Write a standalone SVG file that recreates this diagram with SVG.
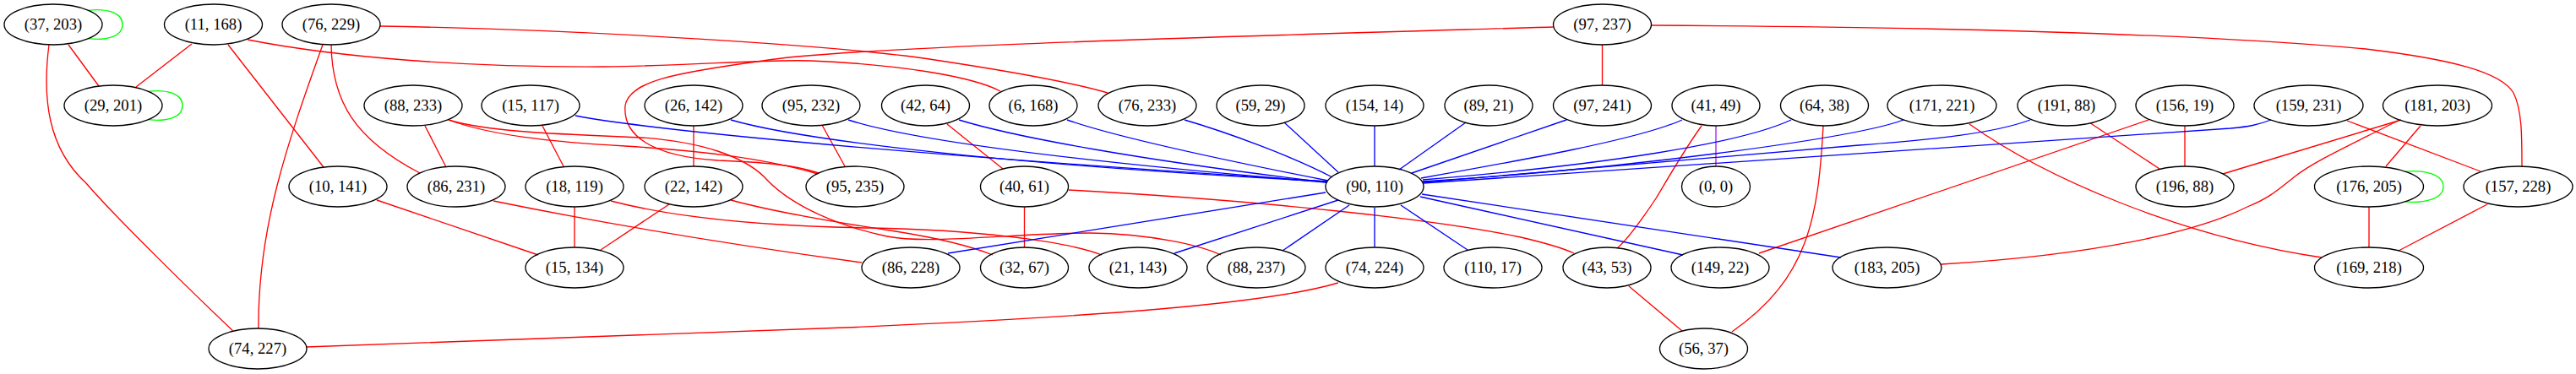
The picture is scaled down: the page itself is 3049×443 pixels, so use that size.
<svg xmlns="http://www.w3.org/2000/svg" width="3049" height="443" viewBox="0 0 3049 443">
<style>
.n ellipse{fill:none;stroke:#000;stroke-width:1.33}
.n text{font-family:"Liberation Serif","Times New Roman",serif;font-size:18.67px;text-anchor:middle;fill:#000}
#edges path{fill:none;stroke-width:1.33}
.r{stroke:#ff0000}
.b{stroke:#0000ff}
.g{stroke:#00ff00}
.p{stroke:#a020f0}
</style>
<rect width="3049" height="443" fill="#fff"/>
<g id="edges">
<path class="g" d="M104.6,12.3 C125,10 145,14 145,29 C145,44 125,48 104.6,45.7"/>
<path class="g" d="M175.6,108.3 C196,106 216,110 216,125 C216,140 196,144 175.6,141.7"/>
<path class="g" d="M2847,203.1 C2868,201 2892,206 2892,221 C2892,236 2868,241 2847,238.9"/>
<path class="r" d="M81,53 L117,102"/>
<path class="r" d="M58,53 C50,115 56,175 102,217 C138,259 235.5,353.7 275.5,391.7"/>
<path class="r" d="M227,52 L161,103"/>
<path class="r" d="M270,53 L383,198"/>
<path class="r" d="M293,47 C400,68 550,80 714,79 C820,78 900,70 960,72 C1060,76 1150,90 1184,108"/>
<path class="r" d="M450,31 C700,35 1000,55 1100,70 C1200,85 1270,98 1311,110"/>
<path class="r" d="M392,53 C393,120 420,165 497,205"/>
<path class="r" d="M382,53 C340,170 305,270 306,389"/>
<path class="r" d="M503,149 L528,198"/>
<path class="r" d="M531,142 C580,160 650,168 740,173 C820,178 900,186 968,206"/>
<path class="r" d="M531,142 C580,158 700,160 760,163 C830,168 880,185 905,210 C930,238 980,265 1050,280 C1100,290 1200,276 1290,276 C1360,277 1420,290 1445,302"/>
<path class="r" d="M1838,32 C1500,42 1000,55 903,72 C800,86 745,96 740,125 C737,160 770,185 850,190 C900,192 940,195 969,205"/>
<path class="r" d="M642,149 L667,197"/>
<path class="r" d="M680,245 L680,293"/>
<path class="r" d="M723,238 C800,258 900,268 1030,270 C1150,272 1260,285 1304,302"/>
<path class="r" d="M865,237 C920,252 1000,265 1060,274 C1110,282 1150,292 1175,302"/>
<path class="r" d="M792,242 L711,296"/>
<path class="r" d="M821,149 L821,197"/>
<path class="r" d="M446,237 L637,302"/>
<path class="r" d="M584,238 Q780,278 1020,311"/>
<path class="r" d="M973.5,149 L1000,197"/>
<path class="r" d="M1121,147 L1187,200"/>
<path class="r" d="M1212.5,245 L1212.5,293"/>
<path class="r" d="M1265,225 C1500,238 1700,260 1800,281 C1830,288 1850,294 1863,300"/>
<path class="r" d="M1584,335 C1500,360 1300,375 1000,388 C700,400 500,405 362,411"/>
<path class="r" d="M1896.5,53 L1896.5,101"/>
<path class="r" d="M1954,30 C2300,32 2600,40 2800,58 C2900,70 2960,85 2975,110 C2985,130 2985,160 2985,197"/>
<path class="r" d="M2014,149 C1992,180 1975,210 1960,235 C1940,265 1925,285 1914,294"/>
<path class="r" d="M1928,339 L1991,392"/>
<path class="r" d="M2158,149 C2152,260 2140,330 2050,393"/>
<path class="r" d="M2331,147 C2420,210 2580,280 2748,305"/>
<path class="r" d="M2474.5,146 L2556,200"/>
<path class="r" d="M2586,149 L2586,197"/>
<path class="r" d="M2543,142 L2082,300"/>
<path class="r" d="M2842,142 L2631,206"/>
<path class="r" d="M2840,142 C2790,168 2740,190 2715,210 C2695,226 2685,235 2660,245 C2600,275 2480,302 2298,313"/>
<path class="r" d="M2865,149 L2824,197"/>
<path class="r" d="M2778,143 L2936,203"/>
<path class="r" d="M2804,245 L2804,293"/>
<path class="r" d="M2944,242 L2839,297"/>
<path class="p" d="M2031,149 L2031,197"/>
<path class="b" d="M681,137 C760,152 1000,178 1570,215"/>
<path class="b" d="M865,142 C920,158 1100,190 1570,215"/>
<path class="b" d="M1004,142 C1060,160 1200,185 1570,216"/>
<path class="b" d="M1135,142 C1200,162 1350,190 1571,216"/>
<path class="b" d="M1263,142 C1320,162 1450,190 1572,214"/>
<path class="b" d="M1402,142 C1450,156 1530,185 1577,210"/>
<path class="b" d="M1520,145 L1584,204"/>
<path class="b" d="M1627,149 L1627,197"/>
<path class="b" d="M1735,145 L1656,201"/>
<path class="b" d="M1854,142 L1671,205"/>
<path class="b" d="M1991,142 C1940,165 1800,190 1682,211"/>
<path class="b" d="M2120,142 C2060,170 1900,195 1684,213"/>
<path class="b" d="M2253,142 C2200,162 1950,198 1684,215"/>
<path class="b" d="M2403,142 C2360,158 2290,165 2200,172 L1684,216"/>
<path class="b" d="M2688,142 C2672,148 2662,150 2640,152 L1684,217"/>
<path class="b" d="M1569,228 L1122,300"/>
<path class="b" d="M1584,237 L1390,300"/>
<path class="b" d="M1597,243 L1518,297"/>
<path class="b" d="M1627,246 L1627,293"/>
<path class="b" d="M1658,243 L1737,296"/>
<path class="b" d="M1681,233 L1992,302"/>
<path class="b" d="M1683,230 L2179,305"/>
</g>
<g id="n37_203" class="n"><ellipse cx="63" cy="29" rx="58" ry="24"/><text x="63" y="35">(37, 203)</text></g>
<g id="n11_168" class="n"><ellipse cx="252.5" cy="29" rx="58" ry="24"/><text x="252.5" y="35">(11, 168)</text></g>
<g id="n76_229" class="n"><ellipse cx="392" cy="29" rx="58" ry="24"/><text x="392" y="35">(76, 229)</text></g>
<g id="n97_237" class="n"><ellipse cx="1896.5" cy="29" rx="58" ry="24"/><text x="1896.5" y="35">(97, 237)</text></g>
<g id="n29_201" class="n"><ellipse cx="134" cy="125" rx="58" ry="24"/><text x="134" y="131">(29, 201)</text></g>
<g id="n88_233" class="n"><ellipse cx="489" cy="125" rx="58" ry="24"/><text x="489" y="131">(88, 233)</text></g>
<g id="n15_117" class="n"><ellipse cx="628" cy="125" rx="58" ry="24"/><text x="628" y="131">(15, 117)</text></g>
<g id="n26_142" class="n"><ellipse cx="821" cy="125" rx="58" ry="24"/><text x="821" y="131">(26, 142)</text></g>
<g id="n95_232" class="n"><ellipse cx="960" cy="125" rx="58" ry="24"/><text x="960" y="131">(95, 232)</text></g>
<g id="n42_64" class="n"><ellipse cx="1095.5" cy="125" rx="52" ry="24"/><text x="1095.5" y="131">(42, 64)</text></g>
<g id="n6_168" class="n"><ellipse cx="1223" cy="125" rx="52" ry="24"/><text x="1223" y="131">(6, 168)</text></g>
<g id="n76_233" class="n"><ellipse cx="1358" cy="125" rx="58" ry="24"/><text x="1358" y="131">(76, 233)</text></g>
<g id="n59_29" class="n"><ellipse cx="1492" cy="125" rx="52" ry="24"/><text x="1492" y="131">(59, 29)</text></g>
<g id="n154_14" class="n"><ellipse cx="1627" cy="125" rx="58" ry="24"/><text x="1627" y="131">(154, 14)</text></g>
<g id="n89_21" class="n"><ellipse cx="1762" cy="125" rx="52" ry="24"/><text x="1762" y="131">(89, 21)</text></g>
<g id="n97_241" class="n"><ellipse cx="1896.5" cy="125" rx="58" ry="24"/><text x="1896.5" y="131">(97, 241)</text></g>
<g id="n41_49" class="n"><ellipse cx="2031" cy="125" rx="52" ry="24"/><text x="2031" y="131">(41, 49)</text></g>
<g id="n64_38" class="n"><ellipse cx="2159.5" cy="125" rx="52" ry="24"/><text x="2159.5" y="131">(64, 38)</text></g>
<g id="n171_221" class="n"><ellipse cx="2298.5" cy="125" rx="64.5" ry="24"/><text x="2298.5" y="131">(171, 221)</text></g>
<g id="n191_88" class="n"><ellipse cx="2446" cy="125" rx="58" ry="24"/><text x="2446" y="131">(191, 88)</text></g>
<g id="n156_19" class="n"><ellipse cx="2586" cy="125" rx="58" ry="24"/><text x="2586" y="131">(156, 19)</text></g>
<g id="n159_231" class="n"><ellipse cx="2732.5" cy="125" rx="64.5" ry="24"/><text x="2732.5" y="131">(159, 231)</text></g>
<g id="n181_203" class="n"><ellipse cx="2885" cy="125" rx="64.5" ry="24"/><text x="2885" y="131">(181, 203)</text></g>
<g id="n10_141" class="n"><ellipse cx="400" cy="221" rx="58" ry="24"/><text x="400" y="227">(10, 141)</text></g>
<g id="n86_231" class="n"><ellipse cx="540" cy="221" rx="58" ry="24"/><text x="540" y="227">(86, 231)</text></g>
<g id="n18_119" class="n"><ellipse cx="680" cy="221" rx="58" ry="24"/><text x="680" y="227">(18, 119)</text></g>
<g id="n22_142" class="n"><ellipse cx="821" cy="221" rx="58" ry="24"/><text x="821" y="227">(22, 142)</text></g>
<g id="n95_235" class="n"><ellipse cx="1012" cy="221" rx="58" ry="24"/><text x="1012" y="227">(95, 235)</text></g>
<g id="n40_61" class="n"><ellipse cx="1212.5" cy="221" rx="52" ry="24"/><text x="1212.5" y="227">(40, 61)</text></g>
<g id="n90_110" class="n"><ellipse cx="1627" cy="221" rx="58" ry="24"/><text x="1627" y="227">(90, 110)</text></g>
<g id="n0_0" class="n"><ellipse cx="2031" cy="221" rx="40.5" ry="24"/><text x="2031" y="227">(0, 0)</text></g>
<g id="n196_88" class="n"><ellipse cx="2586" cy="221" rx="58" ry="24"/><text x="2586" y="227">(196, 88)</text></g>
<g id="n176_205" class="n"><ellipse cx="2804" cy="221" rx="64.5" ry="24"/><text x="2804" y="227">(176, 205)</text></g>
<g id="n157_228" class="n"><ellipse cx="2980.5" cy="221" rx="64.5" ry="24"/><text x="2980.5" y="227">(157, 228)</text></g>
<g id="n15_134" class="n"><ellipse cx="680" cy="317" rx="58" ry="24"/><text x="680" y="323">(15, 134)</text></g>
<g id="n86_228" class="n"><ellipse cx="1078" cy="317" rx="58" ry="24"/><text x="1078" y="323">(86, 228)</text></g>
<g id="n32_67" class="n"><ellipse cx="1212.5" cy="317" rx="52" ry="24"/><text x="1212.5" y="323">(32, 67)</text></g>
<g id="n21_143" class="n"><ellipse cx="1347" cy="317" rx="58" ry="24"/><text x="1347" y="323">(21, 143)</text></g>
<g id="n88_237" class="n"><ellipse cx="1487" cy="317" rx="58" ry="24"/><text x="1487" y="323">(88, 237)</text></g>
<g id="n74_224" class="n"><ellipse cx="1627" cy="317" rx="58" ry="24"/><text x="1627" y="323">(74, 224)</text></g>
<g id="n110_17" class="n"><ellipse cx="1767" cy="317" rx="58" ry="24"/><text x="1767" y="323">(110, 17)</text></g>
<g id="n43_53" class="n"><ellipse cx="1902" cy="317" rx="52" ry="24"/><text x="1902" y="323">(43, 53)</text></g>
<g id="n149_22" class="n"><ellipse cx="2036" cy="317" rx="58" ry="24"/><text x="2036" y="323">(149, 22)</text></g>
<g id="n183_205" class="n"><ellipse cx="2233.5" cy="317" rx="64.5" ry="24"/><text x="2233.5" y="323">(183, 205)</text></g>
<g id="n169_218" class="n"><ellipse cx="2804" cy="317" rx="64.5" ry="24"/><text x="2804" y="323">(169, 218)</text></g>
<g id="n74_227" class="n"><ellipse cx="305" cy="413" rx="58" ry="24"/><text x="305" y="419">(74, 227)</text></g>
<g id="n56_37" class="n"><ellipse cx="2016.5" cy="413" rx="52" ry="24"/><text x="2016.5" y="419">(56, 37)</text></g>
</svg>
